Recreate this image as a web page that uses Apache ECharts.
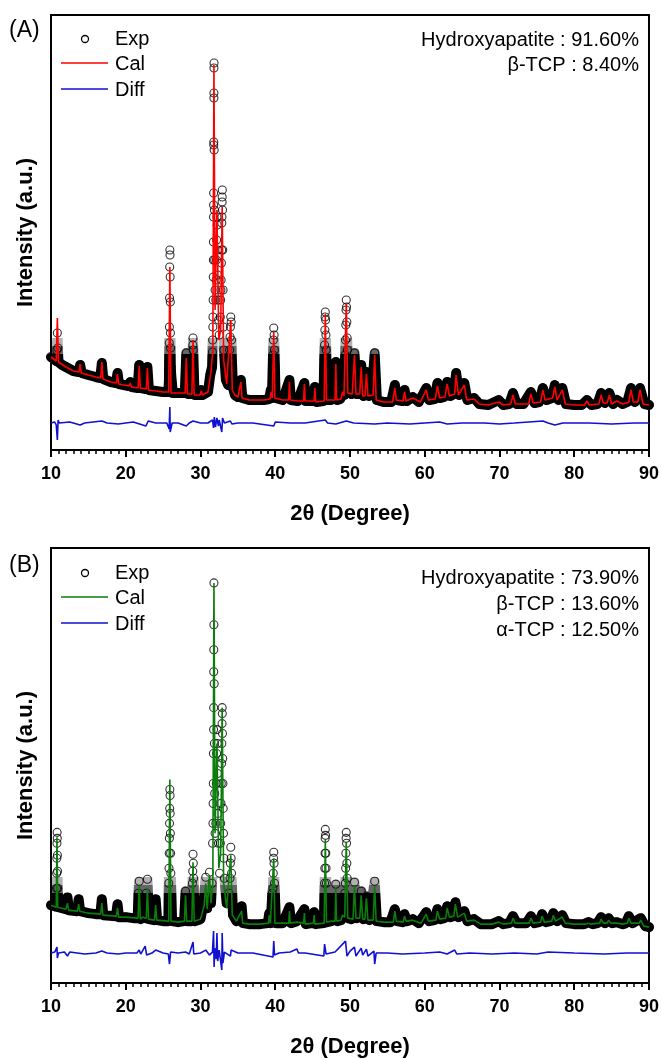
<!DOCTYPE html>
<html>
<head>
<meta charset="utf-8">
<script src="https://cdn.jsdelivr.net/npm/echarts@6.0.0/dist/echarts.min.js"></script>
<style>
  html, body { margin: 0; padding: 0; background: #fff; }
  #chart { width: 662px; height: 1059px; }
</style>
</head>
<body>
<div id="chart"></div>
<script>
// [2theta, intensity (a.u.)]
const expA = [
  [10.0,93],[10.4,91],[10.7,89],[10.78,100],[10.85,117],[10.92,102],[11.0,88],[11.5,85],[12.0,83],[12.5,81],[13.0,79],
  [13.7,78],[13.9,85],[14.1,77],[15.0,75],[16.0,73],[16.6,72],[16.8,87],[17.0,71],[18.0,68],[18.7,67],[18.9,77],[19.1,66],
  [20.4,64],[20.6,68],[20.8,63],[21.6,62],[21.8,85],[22.0,62],[22.7,61],[22.9,83],[23.1,60],[24.0,59],[25.0,58],
  [25.7,58],[25.78,70],[25.8,88],[25.82,107],[25.84,123],[25.86,152],[25.88,183],[25.9,200],[25.92,195],[25.94,173],
  [25.96,148],[25.98,117],[26.0,102],[26.03,83],[26.08,75],[26.3,57],
  [27.0,57],[27.9,57],[28.1,97],[28.3,56],[28.8,56],[28.95,90],[28.98,105],[29.0,112],[29.03,100],[29.2,55],
  [29.9,55],[30.1,60],[30.3,55],[31.0,58],[31.3,75],[31.55,83],[31.6,98],[31.63,110],[31.65,123],[31.67,133],
  [31.69,150],[31.71,173],[31.72,190],[31.73,208],[31.74,233],[31.75,245],[31.76,257],[31.77,305],[31.78,308],
  [31.79,352],[31.795,357],[31.8,382],[31.81,387],[31.83,300],[31.86,240],[31.9,190],[31.95,160],[32.05,150],
  [32.1,170],[32.13,190],[32.16,210],[32.2,233],[32.23,225],[32.26,200],[32.3,175],[32.35,150],[32.42,130],
  [32.5,115],[32.65,133],[32.7,150],[32.73,160],[32.76,170],[32.8,187],[32.83,200],[32.85,227],[32.87,233],
  [32.89,248],[32.9,253],[32.92,260],[32.95,240],[32.98,200],[33.02,160],[33.07,123],[33.12,100],[33.4,70],
  [33.7,65],[33.9,100],[33.95,113],[34.0,123],[34.05,133],[34.1,128],[34.15,110],[34.2,90],[34.35,62],
  [34.6,55],[35.0,53],[35.4,70],[35.6,52],[36.5,50],[37.5,50],[38.5,50],[39.2,51],[39.4,60],[39.55,52],
  [39.65,80],[39.7,95],[39.75,110],[39.8,122],[39.85,115],[39.9,100],[39.95,85],[40.05,52],[41.0,50],[41.9,70],
  [42.1,50],[43.0,49],[43.9,67],[44.1,49],[45.1,49],[45.3,63],[45.5,48],[46.45,49],[46.55,90],[46.6,105],
  [46.64,120],[46.67,133],[46.7,138],[46.74,130],[46.78,115],[46.82,100],[46.95,50],[47.4,50],[48.1,88],[48.3,50],
  [48.7,51],[49.0,60],[49.2,55],[49.35,95],[49.4,110],[49.44,125],[49.47,140],[49.5,150],[49.54,143],[49.58,128],
  [49.62,112],[49.66,100],[49.8,58],[50.2,56],
  [50.6,97],[50.9,56],[51.2,56],[51.5,85],[51.8,54],[52.2,78],[52.5,54],[52.9,55],[53.3,97],[53.6,50],[54.5,48],
  [55.5,48],[56.0,65],[56.3,50],[57.0,49],[57.3,60],[57.6,49],[58.4,53],[59.2,48],[60.2,62],[60.6,50],[61.3,51],
  [61.7,67],[62.1,52],[62.6,53],[63.0,68],[63.4,54],[63.9,56],[64.2,77],[64.6,55],[65.3,67],[65.7,50],[66.6,52],
  [67.3,46],[68.5,45],[69.9,50],[70.5,45],[71.3,46],[71.8,57],[72.3,46],[73.2,46],[74.2,58],[74.7,47],[75.3,48],
  [75.8,62],[76.3,50],[77.0,52],[77.4,65],[77.9,50],[78.4,62],[78.9,46],[80.0,45],[81.0,45],[81.7,50],[82.3,45],
  [83.1,46],[83.6,57],[84.1,47],[84.7,57],[85.2,46],[85.7,50],[86.5,46],[87.1,48],[87.6,62],[88.1,48],[88.8,62],
  [89.4,46],[90.0,45]
];
const calA = [
  [10.0,93],[10.7,89],[10.85,132],[11.0,88],[12.0,83],[13.0,79],[13.75,78],[13.9,86],[14.05,77],[15.0,75],[16.0,73],
  [16.65,72],[16.8,88],[16.95,71],[18.0,68],[18.75,67],[18.9,76],[19.05,66],[20.45,64],[20.6,67],[20.75,63],
  [21.65,62],[21.8,84],[21.95,62],[22.75,61],[22.9,82],[23.05,60],[24.0,59],[25.0,58],[25.75,58],[25.9,183],
  [26.05,57],[27.0,57],[27.95,57],[28.1,92],[28.25,56],[28.85,56],[29.0,110],[29.15,55],[29.95,55],[30.1,59],
  [30.25,55],[31.0,58],[31.4,78],[31.65,100],[31.8,385],[31.95,140],[32.2,240],[32.45,110],[32.7,120],[32.9,243],
  [33.1,90],[33.5,66],[34.05,130],[34.25,60],[34.6,55],[35.0,53],[35.4,68],[35.55,52],[36.5,50],[38.5,50],[39.3,51],
  [39.45,58],[39.6,52],[39.8,118],[39.95,52],[41.0,50],[41.8,50],[41.9,68],[42.0,50],[43.0,49],[43.8,49],[43.9,66],
  [44.0,49],[45.2,49],[45.3,62],[45.4,48],[46.55,49],[46.7,136],[46.85,50],[47.4,50],[48.0,50],[48.1,86],[48.2,50],
  [48.8,51],[49.0,58],[49.2,54],[49.5,147],[49.7,57],[50.3,56],[50.6,95],[50.8,56],[51.3,56],[51.5,83],[51.7,54],
  [52.0,54],[52.2,76],[52.4,54],[53.1,55],[53.3,95],[53.5,50],[54.5,48],[55.7,48],[56.0,62],[56.2,50],[57.1,49],
  [57.3,58],[57.5,49],[58.4,52],[59.4,48],[60.2,60],[60.5,50],[61.4,51],[61.7,64],[62.0,52],[62.7,53],[63.0,66],
  [63.3,54],[64.0,56],[64.2,75],[64.5,55],[65.3,65],[65.6,50],[66.6,51],[67.3,46],[68.5,45],[69.9,48],[70.5,45],
  [71.5,46],[71.8,55],[72.1,46],[73.9,46],[74.2,56],[74.5,47],[75.5,48],[75.8,60],[76.1,50],[77.1,52],[77.4,63],
  [77.7,50],[78.4,60],[78.8,46],[80.0,45],[81.4,45],[81.7,49],[82.0,45],[83.3,46],[83.6,55],[83.9,47],[84.4,47],
  [84.7,55],[85.0,46],[85.7,49],[86.5,46],[87.3,48],[87.6,60],[87.9,48],[88.5,48],[88.8,60],[89.2,46],[90.0,45]
];
const diffA = [
  [10.0,27],[10.5,28],[10.7,25],[10.85,10],[10.95,30],[11.1,27],[12.5,28],[13.9,25],[14.5,27],[16.8,29],[17.5,27],
  [19.0,26],[20.0,27],[21.0,28],[22.7,24],[23.0,29],[24.0,27],[25.5,27],[25.8,21],[25.9,43],[25.95,18],[26.2,27],
  [27.0,27],[28.1,24],[28.5,27],[29.0,29],[30.0,27],[31.0,27],[31.6,30],[31.75,22],[31.85,33],[32.0,23],[32.2,32],
  [32.4,24],[32.5,30],[32.85,18],[32.95,32],[33.2,27],[34.0,29],[34.2,26],[35.0,27],[37.0,27],[39.8,24],[40.0,28],
  [42.0,27],[44.0,27],[46.7,30],[47.0,27],[48.1,26],[49.5,29],[50.5,27],[53.3,26],[55.0,27],[58.0,26],[60.0,27],
  [62.0,28],[63.0,26],[65.0,27],[68.0,27],[70.0,26],[72.0,27],[75.8,29],[76.5,27],[77.4,25],[78.5,27],[82.0,27],
  [85.0,26],[88.0,27],[90.0,27]
];

const expB = [
  [10.0,78],[10.5,77],[10.7,76],[10.74,95],[10.76,110],[10.78,125],[10.8,140],[10.82,151],[10.84,145],[10.86,128],
  [10.88,112],[10.9,95],[10.98,76],[11.5,75],[12.0,74],[12.2,86],[12.4,73],
  [13.5,72],[13.7,84],[13.9,72],[15.0,70],[16.0,69],[16.6,69],[16.8,84],[17.0,68],[18.7,67],[18.9,79],[19.1,66],
  [20.0,66],[21.0,65],[21.6,65],[21.7,90],[21.8,102],[21.9,85],[22.0,64],[22.3,68],[22.6,65],[22.75,90],[22.9,104],
  [23.0,85],[23.1,64],[23.8,63],[24.0,84],[24.2,63],[25.0,62],[25.7,62],[25.76,100],[25.79,115],[25.82,130],
  [25.84,145],[25.86,160],[25.88,175],[25.9,194],[25.93,188],[25.95,170],[25.97,150],[26.0,130],[26.03,110],[26.2,62],
  [27.0,61],[27.8,62],[28.0,92],[28.2,62],[28.8,62],[28.92,100],[28.96,112],[29.0,129],[29.04,120],[29.08,105],
  [29.2,62],[30.0,64],[30.4,80],[30.7,106],[30.9,75],[31.2,111],[31.4,80],[31.55,100],[31.62,140],[31.66,160],
  [31.69,180],[31.71,200],[31.73,230],[31.75,254],[31.76,276],[31.77,312],[31.78,334],[31.79,359],[31.8,401],
  [31.83,300],[31.86,240],[31.9,190],[31.95,150],[32.05,160],[32.12,200],[32.16,230],[32.2,254],[32.24,240],
  [32.28,210],[32.33,170],[32.4,140],[32.55,110],[32.65,140],[32.7,160],[32.74,180],[32.78,200],[32.82,220],
  [32.85,240],[32.88,260],[32.9,276],[32.92,270],[32.94,250],[32.97,225],[33.0,200],[33.04,175],[33.08,150],
  [33.13,125],[33.2,105],[33.5,80],[33.8,90],[33.95,105],[34.0,120],[34.05,136],[34.1,125],[34.15,110],[34.35,68],
  [34.8,62],[35.5,77],[35.7,60],[36.5,59],[38.0,59],[39.0,60],[39.2,70],[39.4,60],[39.6,90],[39.7,95],[39.74,110],
  [39.77,125],[39.8,131],[39.84,120],[39.9,100],[40.1,60],[41.0,60],[41.9,76],[42.1,60],
  [42.9,62],[43.9,74],[44.1,59],[44.9,60],[45.2,71],[45.4,59],[46.5,60],[46.6,100],[46.63,115],[46.66,130],
  [46.68,145],[46.7,154],[46.73,148],[46.76,130],[46.8,115],[46.84,100],[46.95,61],
  [47.5,62],[48.1,99],[48.3,62],[48.8,63],[49.0,70],[49.3,90],[49.38,100],[49.42,115],[49.45,130],[49.48,145],
  [49.5,151],[49.54,140],[49.58,120],[49.62,105],[49.75,65],[50.2,64],[50.6,101],
  [50.9,65],[51.5,92],[51.8,64],[52.2,87],[52.6,63],[53.3,102],[53.6,62],[54.5,61],[55.4,61],[56.0,74],[56.3,62],
  [57.0,61],[57.3,69],[57.6,62],[58.4,64],[59.2,60],[60.2,71],[60.6,62],[61.3,63],[61.7,74],[62.1,64],[62.6,65],
  [63.0,77],[63.4,66],[63.8,67],[64.1,81],[64.5,66],[65.3,72],[65.7,62],[66.6,64],[67.5,59],[69.0,59],[69.9,62],
  [70.5,59],[71.3,60],[71.8,67],[72.3,60],[73.6,60],[74.2,67],[74.7,60],[75.3,61],[75.7,69],[76.2,61],[76.8,62],
  [77.2,70],[77.7,62],[78.4,68],[78.9,60],[80.0,59],[81.3,59],[81.9,61],[82.5,59],[83.1,60],[83.6,66],[84.1,60],
  [84.6,65],[85.1,60],[85.7,61],[86.5,59],[86.9,60],[87.3,67],[87.8,60],[88.9,65],[89.5,57],[90.0,56]
];
const calB = [
  [10.0,78],[10.7,76],[10.8,146],[10.9,76],[12.0,74],[12.2,80],[12.35,73],[13.55,72],[13.7,79],[13.85,72],[15.0,70],
  [16.65,69],[16.8,80],[16.95,68],[18.75,67],[18.9,75],[19.05,66],[20.0,66],[21.65,65],[21.8,98],[21.95,64],
  [22.3,66],[22.75,65],[22.9,95],[23.05,64],[23.85,63],[24.0,78],[24.15,63],[25.75,62],[25.9,204],[26.05,62],
  [27.0,61],[27.85,62],[28.0,88],[28.15,62],[28.85,62],[29.0,121],[29.15,62],[30.0,64],[30.5,78],[30.7,100],
  [30.9,74],[31.2,108],[31.4,80],[31.65,100],[31.8,401],[31.95,150],[32.2,240],[32.45,115],[32.7,130],[32.9,276],
  [33.1,100],[33.5,75],[34.05,128],[34.25,68],[34.8,62],[35.5,72],[35.65,60],[36.5,59],[38.0,59],[39.1,60],
  [39.2,68],[39.35,60],[39.8,125],[39.95,60],[41.0,60],[41.8,60],[41.9,72],[42.0,60],[42.9,61],[43.8,60],[43.9,70],
  [44.0,59],[45.1,60],[45.2,68],[45.3,59],[46.55,60],[46.7,144],[46.85,61],[47.5,62],[48.0,62],[48.1,95],[48.2,62],
  [48.8,63],[49.0,68],[49.3,66],[49.5,141],[49.7,65],[50.4,64],[50.6,98],[50.8,65],[51.3,65],[51.5,88],[51.7,64],
  [52.0,64],[52.2,85],[52.4,63],[53.1,63],[53.3,97],[53.5,62],[54.5,61],[55.8,61],[56.0,72],[56.2,62],[57.1,61],
  [57.3,67],[57.5,62],[58.4,63],[59.5,60],[60.2,69],[60.5,62],[61.5,63],[61.7,72],[62.0,64],[62.8,65],[63.0,75],
  [63.3,66],[63.9,67],[64.1,79],[64.4,66],[65.3,70],[65.6,62],[66.6,63],[67.5,59],[69.0,59],[69.9,61],[70.5,59],
  [71.6,60],[71.8,65],[72.1,60],[74.0,60],[74.2,65],[74.5,60],[75.5,61],[75.7,67],[76.0,61],[77.0,62],[77.2,68],
  [77.5,62],[78.4,66],[78.8,60],[80.0,59],[81.6,59],[81.9,60],[82.2,59],[83.4,60],[83.6,64],[83.9,60],[84.4,60],
  [84.6,63],[84.9,60],[85.7,60],[86.5,59],[87.1,60],[87.3,65],[87.6,60],[88.7,60],[88.9,63],[89.3,57],[90.0,56]
];
const diffB = [
  [10.0,30],[10.5,31],[10.7,29],[10.8,36],[10.85,25],[11.0,30],[11.8,31],[12.2,27],[12.5,31],[13.5,30],[14.5,29],
  [16.0,30],[16.8,32],[17.5,30],[19.0,29],[20.0,30],[21.5,30],[21.8,33],[22.0,29],[22.6,37],[22.8,28],[23.5,30],
  [24.0,33],[25.0,30],[25.7,29],[25.85,19],[26.0,31],[27.0,30],[28.0,31],[28.5,29],[29.0,41],[29.1,29],[30.0,30],
  [30.7,33],[31.2,28],[31.6,31],[31.75,52],[31.82,16],[31.9,35],[32.1,24],[32.2,50],[32.3,22],[32.5,33],[32.85,13],
  [32.9,50],[33.0,20],[33.2,31],[34.0,27],[34.1,33],[35.0,30],[37.0,30],[39.7,26],[39.8,42],[39.9,28],[40.5,30],
  [42.0,31],[42.9,34],[43.1,30],[44.0,30],[46.5,27],[46.6,39],[46.8,29],[48.0,31],[49.4,42],[49.6,27],[50.0,32],
  [50.6,36],[50.8,27],[51.5,35],[51.7,28],[52.2,34],[52.4,27],[53.2,32],[53.3,19],[53.5,30],[55.0,30],[57.0,29],
  [60.0,30],[62.0,31],[63.0,29],[64.0,33],[64.3,29],[66.0,30],[69.0,29],[72.0,30],[75.0,29],[76.5,31],[80.0,30],
  [84.0,29],[87.0,30],[90.0,30]
];

const xTicks = { min: 10, max: 90, interval: 10 };
const fontFam = '"Liberation Sans", Arial, sans-serif';
const blue = '#1010d0';
const green = '#0a7d0a';

function makeX(gi) {
  return {
    type: 'value', gridIndex: gi, min: xTicks.min, max: xTicks.max, interval: xTicks.interval,
    name: '2\u03b8 (Degree)', nameLocation: 'middle', nameGap: 53,
    nameTextStyle: { fontFamily: fontFam, fontWeight: 'bold', fontSize: 22, color: '#000' },
    axisLine: { lineStyle: { color: '#000', width: 2 } },
    axisTick: { length: 7, lineStyle: { color: '#000', width: 2 } },
    minorTick: { show: true, splitNumber: 10, length: 4, lineStyle: { color: '#000', width: 1.5 } },
    axisLabel: { fontFamily: fontFam, fontWeight: 'bold', fontSize: 18, color: '#000', margin: 15 },
    splitLine: { show: false }
  };
}
function makeY(gi, top) {
  return {
    type: 'value', gridIndex: gi, min: 0, max: top,
    name: 'Intensity (a.u.)', nameLocation: 'middle', nameGap: 14,
    nameTextStyle: { fontFamily: fontFam, fontWeight: 'bold', fontSize: 22, color: '#000' },
    axisLine: { show: true, lineStyle: { color: '#000', width: 2 } },
    axisTick: { show: false }, axisLabel: { show: false }, splitLine: { show: false }
  };
}
// dense overlapping circles read as a solid black band near the background
function bandSeries(gi, data) {
  return {
    type: 'line', xAxisIndex: gi, yAxisIndex: gi, data: data, z: 2,
    symbol: 'none', lineStyle: { width: 10, join: 'round', cap: 'round' }
  };
}
function ringSeries(gi, data) {
  return {
    type: 'scatter', xAxisIndex: gi, yAxisIndex: gi, data: data, z: 3,
    symbol: 'circle', symbolSize: 8,
    itemStyle: { color: 'rgba(255,255,255,0)', borderColor: '#000', borderWidth: 1.1 }
  };
}
function lineSeries(gi, data, color) {
  return {
    type: 'line', xAxisIndex: gi, yAxisIndex: gi, data: data, z: 4,
    symbol: 'none', lineStyle: { color: color, width: 1.6 }
  };
}
function bandMap(si, cut, top) {
  return {
    type: 'piecewise', show: false, seriesIndex: si, dimension: 1,
    pieces: [
      { min: 0, max: cut, color: '#000' },
      { min: cut, max: cut + 8, color: 'rgba(0,0,0,0.6)' },
      { min: cut + 8, max: cut + 16, color: 'rgba(0,0,0,0.3)' },
      { min: cut + 16, max: top, color: 'rgba(0,0,0,0)' }
    ]
  };
}
function txt(x, y, s, align, size) {
  return { type: 'text', x: x, y: y, style: { text: s, fill: '#000', font: size + 'px ' + fontFam, textAlign: align, textVerticalAlign: 'middle' } };
}
function legend(y0, calColor) {
  return [
    { type: 'circle', shape: { cx: 85, cy: y0, r: 3.5 }, style: { fill: 'none', stroke: '#000', lineWidth: 1.3 } },
    { type: 'line', shape: { x1: 61, y1: y0 + 24, x2: 108, y2: y0 + 24 }, style: { stroke: calColor, lineWidth: 1.6 } },
    { type: 'line', shape: { x1: 61, y1: y0 + 50, x2: 108, y2: y0 + 50 }, style: { stroke: blue, lineWidth: 1.6 } },
    txt(115, y0, 'Exp', 'left', 20), txt(115, y0 + 25, 'Cal', 'left', 20), txt(115, y0 + 51, 'Diff', 'left', 20)
  ];
}

const chart = echarts.init(document.getElementById('chart'));
chart.setOption({
  animation: false,
  backgroundColor: '#fff',
  grid: [
    { left: 51, right: 11, top: 15, height: 435, show: true, borderColor: '#000', borderWidth: 2 },
    { left: 51, right: 11, top: 548, height: 436, show: true, borderColor: '#000', borderWidth: 2 }
  ],
  xAxis: [makeX(0), makeX(1)],
  yAxis: [makeY(0, 435), makeY(1, 436)],
  visualMap: [bandMap(0, 96, 435), bandMap(4, 90, 436)],
  series: [
    bandSeries(0, expA), ringSeries(0, expA), lineSeries(0, calA, '#ff0000'), lineSeries(0, diffA, blue),
    bandSeries(1, expB), ringSeries(1, expB), lineSeries(1, calB, green), lineSeries(1, diffB, blue)
  ],
  graphic: [
    txt(9, 31, '(A)', 'left', 23), txt(9, 566, '(B)', 'left', 23),
    ...legend(39, '#ff0000'), ...legend(573, green),
    txt(639, 40, 'Hydroxyapatite : 91.60%', 'right', 20),
    txt(639, 65, '\u03b2-TCP : 8.40%', 'right', 20),
    txt(639, 578, 'Hydroxyapatite : 73.90%', 'right', 20),
    txt(639, 604, '\u03b2-TCP : 13.60%', 'right', 20),
    txt(639, 630, '\u03b1-TCP : 12.50%', 'right', 20)
  ]
});
</script>
</body>
</html>
